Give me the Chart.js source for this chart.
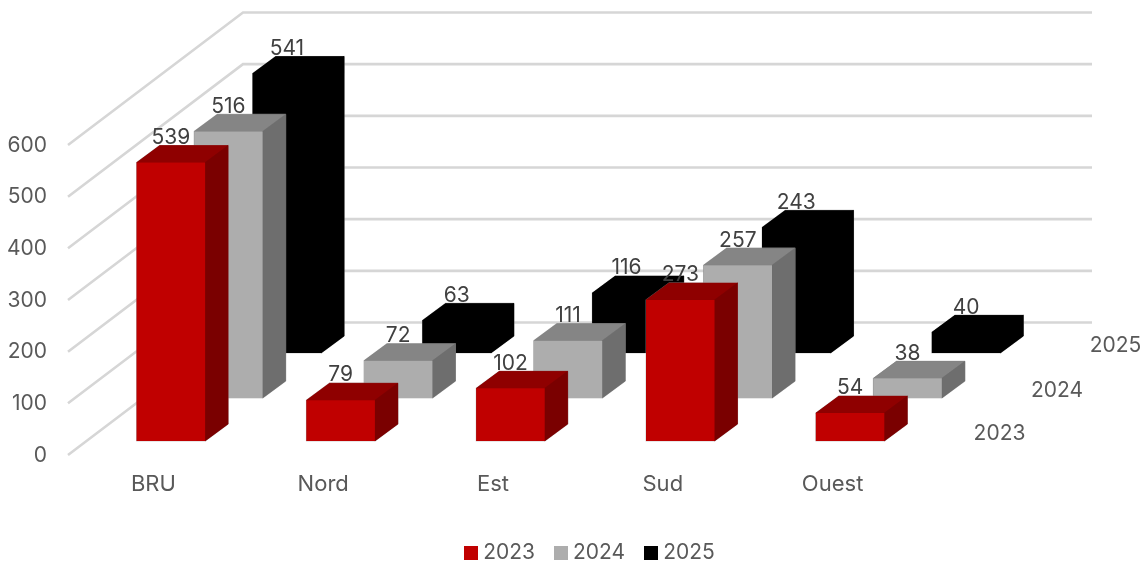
<!DOCTYPE html>
<html>
<head>
<meta charset="utf-8">
<style>html,body{margin:0;padding:0;background:#fff}canvas{display:block}</style>
<script src="https://cdn.jsdelivr.net/npm/chart.js@4"></script>
</head>
<body>
<canvas id="c" width="1147" height="562" style="width:1147px;height:562px"></canvas>
<script>
const categories = ['BRU', 'Nord', 'Est', 'Sud', 'Ouest'];
const seriesNames = ['2023', '2024', '2025'];
const values2023 = [539, 79, 102, 273, 54];
const values2024 = [516, 72, 111, 257, 38];
const values2025 = [541, 63, 116, 243, 40];
const yTicks = [0, 100, 200, 300, 400, 500, 600];

const FONT = 'Inter, "Noto Sans", sans-serif';
const FONT_SIZE = 21;
const CAT_FONT_SIZE = 22;
const frontColors = ['#C00000', '#ADADAD', '#000000'];
const topColors = ['#8F0000', '#858585', '#000000'];
const sideColors = ['#7A0000', '#6E6E6E', '#000000'];
// projection of the 3D depth axis
const rowShift = [[18, -14], [75.5, -57], [134, -102]];
const barDepth = [23, -17];
const wallDepth = [175, -132.5];

function swatch(color) {
  const s = document.createElement('canvas');
  s.width = 14; s.height = 14;
  const g = s.getContext('2d');
  g.fillStyle = color; g.fillRect(0, 0, 14, 14);
  return s;
}
function path(ctx, pts) {
  ctx.beginPath();
  pts.forEach((p, i) => i ? ctx.lineTo(p[0], p[1]) : ctx.moveTo(p[0], p[1]));
  ctx.closePath();
}
function face(ctx, pts, color) {
  path(ctx, pts);
  ctx.fillStyle = color;
  ctx.fill();
  ctx.lineWidth = 0.5;
  ctx.strokeStyle = color;
  ctx.stroke();
}

const bars3d = {
  id: 'bars3d',
  afterLayout(chart) {
    chart.legend.left = 36.5;
  },
  beforeDatasetsDraw(chart) {
    const { ctx, chartArea: a, scales: { y } } = chart;
    ctx.save();
    ctx.strokeStyle = '#D6D6D6';
    ctx.lineWidth = 2.6;
    ctx.lineCap = 'butt';
    ctx.lineJoin = 'miter';
    yTicks.forEach(v => {
      const py = y.getPixelForValue(v);
      ctx.beginPath();
      ctx.moveTo(a.left, py);
      ctx.lineTo(a.left + wallDepth[0], py + wallDepth[1]);
      ctx.lineTo(a.right + wallDepth[0], py + wallDepth[1]);
      ctx.stroke();
    });
    ctx.restore();
  },
  beforeDatasetDraw(chart, args) {
    const { ctx } = chart;
    const i = args.index;
    ctx.save();
    ctx.translate(rowShift[i][0], rowShift[i][1]);
    chart.getDatasetMeta(i).data.forEach(b => {
      const { x, y, base, width } = b.getProps(['x', 'y', 'base', 'width'], true);
      const l = x - width / 2, r = x + width / 2;
      const dx = barDepth[0], dy = barDepth[1];
      path(ctx, [[l, y], [l + dx, y + dy], [r + dx, y + dy], [r + dx, base + dy], [r, base], [l, base]]);
      ctx.lineWidth = 1.2;
      ctx.lineJoin = 'round';
      ctx.strokeStyle = 'rgba(170,170,170,0.55)';
      ctx.stroke();
      ctx.fillStyle = sideColors[i];
      ctx.fill();
      face(ctx, [[l, y], [r, y], [r + dx, y + dy], [l + dx, y + dy]], topColors[i]);
      face(ctx, [[r, y], [r + dx, y + dy], [r + dx, base + dy], [r, base]], sideColors[i]);
    });
  },
  afterDatasetDraw(chart) {
    chart.ctx.restore();
  },
  afterDatasetsDraw(chart) {
    const { ctx, chartArea: a, scales: { y } } = chart;
    ctx.save();
    ctx.font = FONT_SIZE + 'px ' + FONT;
    ctx.textAlign = 'center';
    ctx.textBaseline = 'middle';
    ctx.fillStyle = '#404040';
    chart.data.datasets.forEach((ds, i) => {
      chart.getDatasetMeta(i).data.forEach((b, j) => {
        const p = b.getProps(['x', 'y'], true);
        ctx.fillText(String(ds.data[j]), p.x + rowShift[i][0], p.y + rowShift[i][1] - 25);
      });
    });
    ctx.fillStyle = '#595959';
    seriesNames.forEach((name, i) => {
      ctx.fillText(name, a.right + rowShift[i][0] + 64.5, y.getPixelForValue(0) + rowShift[i][1] - 7.5);
    });
    ctx.restore();
  }
};

function makeDataset(label, data, i) {
  return {
    label, data,
    backgroundColor: frontColors[i],
    borderWidth: 0,
    clip: false,
    barPercentage: 0.403,
    categoryPercentage: 1
  };
}

new Chart(document.getElementById('c'), {
  type: 'bar',
  data: {
    labels: categories,
    datasets: [
      makeDataset(seriesNames[0], values2023, 0),
      makeDataset(seriesNames[1], values2024, 1),
      makeDataset(seriesNames[2], values2025, 2)
    ]
  },
  plugins: [bars3d],
  options: {
    responsive: false,
    animation: false,
    events: [],
    layout: { padding: { left: 0, top: 145, right: 0, bottom: -11.5 } },
    datasets: { bar: { grouped: false } },
    scales: {
      x: {
        stacked: false,
        grid: { display: false },
        border: { display: false },
        ticks: { color: '#595959', font: { family: FONT, size: CAT_FONT_SIZE }, padding: 8.5, maxRotation: 0, autoSkip: false, labelOffset: 0.5 },
        afterFit(axis) { axis.height = 64; }
      },
      y: {
        min: 0, max: 600,
        afterBuildTicks(axis) { axis.ticks = yTicks.map(value => ({ value })); },
        grid: { display: false },
        border: { display: false },
        ticks: { color: '#595959', font: { family: FONT, size: FONT_SIZE }, padding: 13, labelOffset: 0.5 },
        afterFit(axis) { axis.width = 68; }
      },
      spacer: {
        position: 'right',
        min: 0, max: 1,
        grid: { display: false },
        border: { display: false },
        ticks: { display: false },
        afterFit(axis) { axis.width = 230; }
      }
    },
    plugins: {
      tooltip: { enabled: false },
      legend: {
        position: 'bottom',
        labels: {
          color: '#595959',
          font: { family: FONT, size: FONT_SIZE },
          usePointStyle: true,
          pointStyleWidth: 4,
          padding: 23.5,
          generateLabels(chart) {
            return Chart.defaults.plugins.legend.labels.generateLabels(chart)
              .map(it => Object.assign(it, { pointStyle: swatch(it.fillStyle), lineWidth: 0 }));
          }
        }
      }
    }
  }
});
</script>
</body>
</html>
